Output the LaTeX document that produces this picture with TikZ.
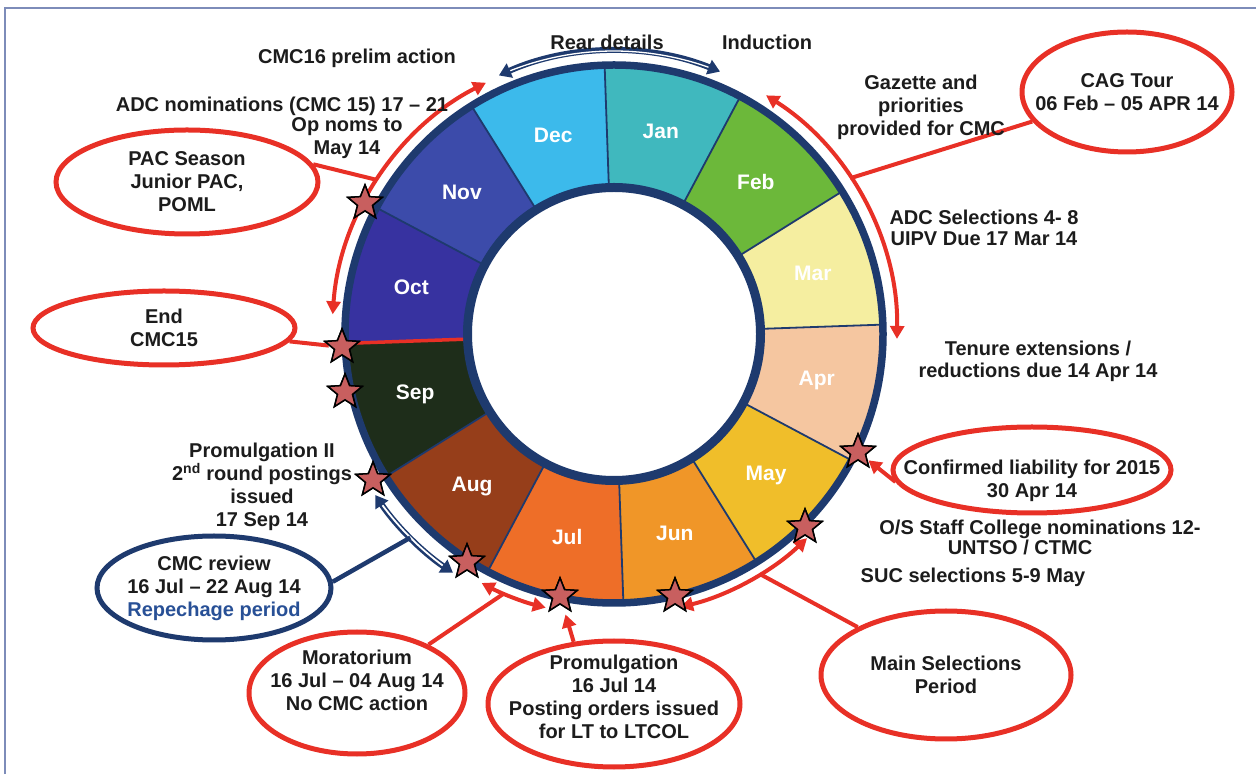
\documentclass[tikz,border=0pt]{standalone}
\usepackage{fontspec}
\setmainfont{Liberation Sans}
\usetikzlibrary{shapes.geometric,arrows.meta,calc}
\definecolor{navy}{RGB}{30,58,110}
\definecolor{redc}{RGB}{232,48,38}
\definecolor{starc}{RGB}{200,95,95}
\definecolor{txt}{RGB}{28,28,28}
\definecolor{framec}{RGB}{125,140,185}
\definecolor{repc}{RGB}{40,80,150}
\definecolor{cjan}{RGB}{64,184,190}
\definecolor{cfeb}{RGB}{108,184,58}
\definecolor{cmar}{RGB}{245,238,160}
\definecolor{capr}{RGB}{245,198,160}
\definecolor{cmay}{RGB}{240,190,42}
\definecolor{cjun}{RGB}{240,150,40}
\definecolor{cjul}{RGB}{238,110,40}
\definecolor{caug}{RGB}{150,62,26}
\definecolor{csep}{RGB}{30,45,26}
\definecolor{coct}{RGB}{55,50,160}
\definecolor{cnov}{RGB}{60,75,170}
\definecolor{cdec}{RGB}{60,186,235}
\begin{document}
\begin{tikzpicture}[x=1pt,y=1pt,
  lab/.style={font=\bfseries\fontsize{20}{23}\selectfont, text=txt, align=center, inner sep=0pt},
  mon/.style={font=\bfseries\fontsize{21}{24}\selectfont, text=white, inner sep=0pt},
  redell/.style={ellipse, draw=redc, line width=5pt, inner xsep=-80pt, inner ysep=-40pt, align=center,
    font=\bfseries\fontsize{20}{23}\selectfont, text=txt, fill=white},
  blueell/.style={redell, draw=navy, line width=5pt},
  redline/.style={draw=redc, line width=4pt},
  redarr/.style={redline, {Triangle[length=13pt,width=14pt]}-{Triangle[length=13pt,width=14pt]}},
  onearr/.style={redline, -{Triangle[length=13pt,width=14pt]}},
  navarr/.style={draw=navy, line width=6pt, {Triangle[length=12pt,width=15pt]}-{Triangle[length=12pt,width=15pt]}},
  starn/.style={star, star points=5, star point ratio=2.3, minimum size=36pt, inner sep=0pt,
    fill=starc, draw=black, line width=1.5pt},
  sep/.style={draw=navy, line width=1.8pt}
]
\useasboundingbox (0,0) rectangle (1256,774);
\draw[framec, line width=1.5pt] (5,0) -- (5,766) -- (1256,766);
\coordinate (C) at (614,440);

% sectors
\foreach \a/\c in {92/cjan,62/cfeb,32/cmar,2/capr,-28/cmay,-58/cjun,-88/cjul,-118/caug,-148/csep,-178/coct,152/cnov,122/cdec}{
  \fill[\c] (C) -- ($(C)+(\a:269)$) arc[start angle=\a, end angle=\a-30, radius=269] -- cycle;
}
\foreach \a in {92,62,32,2,-28,-58,-88,-118,-148,152,122}{
  \draw[sep] (C) -- ($(C)+(\a:269)$);
}
\draw[navy, line width=9pt, fill=white] (C) circle (146.5);
\draw[navy, line width=7.5pt] (C) circle (269);
\draw[redc, line width=3.5pt] ($(C)+(-178:151)$) -- ($(C)+(-178:266)$);

% month labels
\foreach \a/\m in {77/Jan,47/Feb,17/Mar,-13/Apr,-43/May,-73/Jun,-103/Jul,-133/Aug,-163/Sep,167/Oct,137/Nov,107/Dec}{
  \node[mon] at ($(C)+(\a:208)$) {\m};
}

% arcs
\draw[navarr] ($(C)+(114:283)$) arc[start angle=114, end angle=68, radius=283];
\draw[white, line width=1.3pt] ($(C)+(111.5:283)$) arc[start angle=111.5, end angle=70.5, radius=283];
\draw[redarr] ($(C)+(117:282)$) arc[start angle=117, end angle=176, radius=282];
\draw[redarr] ($(C)+(57.5:283)$) arc[start angle=57.5, end angle=-1, radius=283];
\draw[navarr] ($(C)+(-146:288)$) arc[start angle=-146, end angle=-124, radius=288];
\draw[white, line width=1.8pt] ($(C)+(-143.5:288)$) arc[start angle=-143.5, end angle=-126.5, radius=288];
\draw[redarr] ($(C)+(-118:282)$) arc[start angle=-118, end angle=-104, radius=282];
\draw[redarr] ($(C)+(-76.4:281)$) arc[start angle=-76.4, end angle=-46.6, radius=281];

\coordinate (pacend) at ($(C)+(147:283)$);
\coordinate (cagend) at ($(C)+(33.4:283)$);
\coordinate (cmcrend) at ($(C)+(-135:288)$);
\coordinate (moraend) at ($(C)+(-113:282)$);
\coordinate (mainend) at ($(C)+(-58.7:281)$);

% stars
\node[starn] (s1) at (365,571) {};
\node[starn] (s2) at (342,427) {};
\node[starn] (s3) at (345,382) {};
\node[starn] (s4) at (373,294) {};
\node[starn] (s5) at (467,212) {};
\node[starn] (s6) at (560,178) {};
\node[starn] (s7) at (675,178) {};
\node[starn] (s8) at (805,247) {};
\node[starn] (s9) at (858,322) {};

% ellipses
\node[redell, minimum width=262pt, minimum height=104pt] (pac) at (187,592) {PAC Season\\Junior PAC,\\POML};
\node[redell, minimum width=262pt, minimum height=74pt] (endc) at (164,446) {End\\CMC15};
\node[redell, minimum width=210pt, minimum height=120pt] (cag) at (1127,682) {CAG Tour\\06 Feb – 05 APR 14};
\node[redell, minimum width=278pt, minimum height=86pt] (conf) at (1032,304) {\rule{0pt}{37pt}Confirmed liability for 2015\\30 Apr 14};
\node[redell, minimum width=250pt, minimum height=128pt] (mains) at (946,99) {Main Selections\\Period};
\node[redell, minimum width=252pt, minimum height=126pt] (promo) at (614,70) {Promulgation\\16 Jul 14\\Posting orders issued\\for LT to LTCOL\rule[-14pt]{0pt}{14pt}};
\node[redell, minimum width=216pt, minimum height=122pt] (mora) at (357,81) {Moratorium\\16 Jul – 04 Aug 14\\No CMC action\rule[-26pt]{0pt}{26pt}};
\node[blueell, minimum width=234pt, minimum height=104pt] (cmcr) at (214,186) {CMC review\\16 Jul – 22 Aug 14\\\textcolor{repc}{Repechage period}};

% connectors
\draw[redline] (pac.8) -- (pacend);
\draw[redline] (endc) -- (s2);
\draw[redline] (cag) -- (cagend);
\draw[onearr, shorten >=1pt] (conf.185) -- (s9);
\draw[redline] (mains) -- (mainend);
\draw[onearr, shorten >=8pt] (promo.123) -- (s6);
\draw[redline] (mora) -- (moraend);
\draw[draw=navy, line width=4.5pt] (cmcr.3) -- (cmcrend);

% redraw stars on top of connectors
\foreach \s in {s1,s2,s3,s4,s5,s6,s7,s8,s9}{
  \node[starn] at (\s) {};
}

% labels
\node[lab] (prelim) at (357,716) {CMC16 prelim action};
\node[lab] (rear) at (607,732) {Rear details};
\node[lab] (induct) at (767,732) {Induction};
\node[lab] (adcnom) at (282,668) {ADC nominations (CMC 15) 17 – 21};
\node[lab] (opnoms) at (347,636) {Op noms to\\May 14};
\node[lab] (gaz) at (921,667) {Gazette and\\priorities\\provided for CMC};
\node[lab, font=\bfseries\fontsize{20}{21}\selectfont] (adcsel) at (984,546) {ADC Selections 4- 8\\UIPV Due 17 Mar 14};
\node[lab, font=\bfseries\fontsize{20}{22}\selectfont] (tenure) at (1038,413) {Tenure extensions /\\reductions due 14 Apr 14};
\node[lab] (os1) at (1040,245) {O/S Staff College nominations 12-};
\node[lab] (os2) at (1020,227) {UNTSO / CTMC};
\node[lab] (suc) at (973,197) {SUC selections 5-9 May};
\node[lab] (prom2) at (262,287) {Promulgation II\\2\textsuperscript{nd} round postings\\issued\\17 Sep 14};
\end{tikzpicture}
\end{document}
